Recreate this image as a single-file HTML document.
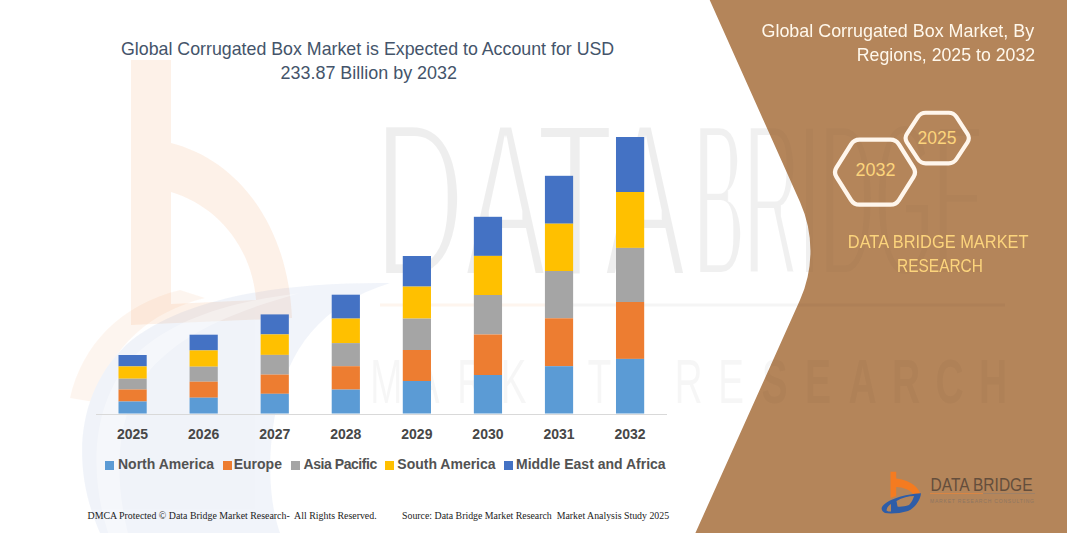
<!DOCTYPE html>
<html><head><meta charset="utf-8">
<style>
html,body{margin:0;padding:0;}
body{width:1067px;height:533px;position:relative;overflow:hidden;background:#fff;font-family:"Liberation Sans",sans-serif;}
.a{position:absolute;white-space:nowrap;}
.t{color:#44546A;font-size:17.8px;line-height:20px;}
.yr{font-weight:bold;font-size:14px;color:#474747;line-height:16px;width:60px;text-align:center;}
.lg{font-weight:bold;font-size:14px;color:#525252;line-height:16px;}
.sq{position:absolute;width:9px;height:9px;}
.ft{white-space:pre;font-family:"Liberation Serif",serif;font-size:9.9px;color:#222;line-height:12px;}
.hx{color:#FCD47C;font-size:17.5px;line-height:20px;text-align:center;}
.db{color:#FCD47C;font-size:16.2px;line-height:20px;text-align:center;}
</style></head><body>
<svg class="a" style="left:0;top:0" width="1067" height="533" viewBox="0 0 1067 533">
  <defs><filter id="er" x="-5%" y="-5%" width="110%" height="110%"><feMorphology operator="erode" radius="0.5 4"/></filter></defs>
  <g opacity="0.1">
    <path fill-rule="evenodd" fill="#F07A22" d="M131 60 L171 60 L171 143 C238 160 288 225 292 318 L131 325 Z M171 192 C218 206 252 248 256 300 L171 304 Z"/>
  </g>
  <g opacity="0.065">
    <path fill="#F07A22" d="M70 398 C82 345 120 305 180 290 L205 298 C150 312 112 345 94 402 Z"/>
    <path fill="#2F5FB0" d="M100 533 C72 470 74 395 126 345 C180 298 280 282 390 283 C320 305 288 350 276 410 C266 460 270 505 280 533 Z"/>
  </g>
  <path fill="#fff" fill-opacity="0.35" d="M108 533 C88 470 92 400 135 355 C175 318 230 302 300 293 C240 310 185 330 150 370 C118 410 112 470 128 533 Z"/>
  <text x="375" y="277" font-family="Liberation Sans" font-size="223" textLength="311" lengthAdjust="spacingAndGlyphs" fill="#000" fill-opacity="0.065" filter="url(#er)">DATA</text>
  <text x="694" y="277" font-family="Liberation Sans" font-size="223" textLength="290" lengthAdjust="spacingAndGlyphs" fill="#000" fill-opacity="0.06" filter="url(#er3)">BRIDGE</text>
  <defs><filter id="er3" x="-5%" y="-5%" width="110%" height="110%"><feMorphology operator="erode" radius="0 4.5"/></filter></defs>
  <line x1="380" y1="305" x2="560" y2="305" stroke="#F07A22" stroke-opacity="0.08" stroke-width="3"/>
  <line x1="560" y1="305" x2="1005" y2="305" stroke="#000" stroke-opacity="0.04" stroke-width="3"/>
  <text transform="scale(0.62 1)" x="596.8 666.9 737.1 807.3 877.4 947.6 1087.9 1158.1 1228.2 1298.4 1368.5 1438.7 1508.9 1579.0" y="403" font-family="Liberation Sans" font-size="63" fill="#000" fill-opacity="0.035">MARKETRESEARCH</text>
  <defs><filter id="er2"><feMorphology operator="erode" radius="1.5"/></filter></defs>
</svg>
<svg class="a" style="left:0;top:0" width="1067" height="533" viewBox="0 0 1067 533">
  <path d="M709.7 0 L800 202 A120 120 0 0 1 800 300 L695.4 533 L1067 533 L1067 0 Z" fill="#B4855A"/>
</svg>
<svg class="a" id="wm2" style="left:0;top:0" width="1067" height="533" viewBox="0 0 1067 533">
  <defs><clipPath id="bp"><path d="M709.7 0 L800 202 A120 120 0 0 1 800 300 L695.4 533 L1067 533 L1067 0 Z"/></clipPath>
  <filter id="er3b" x="-5%" y="-5%" width="110%" height="110%"><feMorphology operator="erode" radius="0 4.5"/></filter></defs>
  <g clip-path="url(#bp)">
  <text x="694" y="277" font-family="Liberation Sans" font-size="223" textLength="290" lengthAdjust="spacingAndGlyphs" fill="#000" fill-opacity="0.022" filter="url(#er3b)">BRIDGE</text>
  <line x1="560" y1="305" x2="1005" y2="305" stroke="#000" stroke-opacity="0.03" stroke-width="3"/>
  <text transform="scale(0.62 1)" x="596.8 666.9 737.1 807.3 877.4 947.6 1087.9 1158.1 1228.2 1298.4 1368.5 1438.7 1508.9 1579.0" y="403" font-family="Liberation Sans" font-size="63" font-weight="bold" fill="#000" fill-opacity="0.028">MARKETRESEARCH</text>
  </g>
</svg>

<div class="a t" style="left:121px;top:39.2px;">Global Corrugated Box Market is Expected to Account for USD</div>
<div class="a t" style="left:280.5px;top:63.2px;font-size:17.95px;">233.87 Billion by 2032</div>

<svg class="a" style="left:0;top:0" width="1067" height="533" viewBox="0 0 1067 533" id="chart">
    <rect x="118.50" y="355" width="28.2" height="11.4" fill="#4472C4"/>
  <rect x="118.50" y="366.4" width="28.2" height="12.3" fill="#FFC000"/>
  <rect x="118.50" y="378.7" width="28.2" height="10.8" fill="#A5A5A5"/>
  <rect x="118.50" y="389.5" width="28.2" height="12.0" fill="#ED7D31"/>
  <rect x="118.50" y="401.5" width="28.2" height="12.0" fill="#5B9BD5"/>
  <rect x="189.57" y="334.7" width="28.2" height="15.7" fill="#4472C4"/>
  <rect x="189.57" y="350.4" width="28.2" height="16.3" fill="#FFC000"/>
  <rect x="189.57" y="366.7" width="28.2" height="15.0" fill="#A5A5A5"/>
  <rect x="189.57" y="381.7" width="28.2" height="16.0" fill="#ED7D31"/>
  <rect x="189.57" y="397.7" width="28.2" height="15.8" fill="#5B9BD5"/>
  <rect x="260.64" y="314.4" width="28.2" height="20.0" fill="#4472C4"/>
  <rect x="260.64" y="334.4" width="28.2" height="20.5" fill="#FFC000"/>
  <rect x="260.64" y="354.9" width="28.2" height="19.7" fill="#A5A5A5"/>
  <rect x="260.64" y="374.6" width="28.2" height="19.2" fill="#ED7D31"/>
  <rect x="260.64" y="393.8" width="28.2" height="19.7" fill="#5B9BD5"/>
  <rect x="331.71" y="294.7" width="28.2" height="23.9" fill="#4472C4"/>
  <rect x="331.71" y="318.6" width="28.2" height="24.5" fill="#FFC000"/>
  <rect x="331.71" y="343.1" width="28.2" height="23.1" fill="#A5A5A5"/>
  <rect x="331.71" y="366.2" width="28.2" height="23.4" fill="#ED7D31"/>
  <rect x="331.71" y="389.6" width="28.2" height="23.9" fill="#5B9BD5"/>
  <rect x="402.78" y="256" width="28.2" height="30.6" fill="#4472C4"/>
  <rect x="402.78" y="286.6" width="28.2" height="32.0" fill="#FFC000"/>
  <rect x="402.78" y="318.6" width="28.2" height="31.4" fill="#A5A5A5"/>
  <rect x="402.78" y="350" width="28.2" height="31.0" fill="#ED7D31"/>
  <rect x="402.78" y="381" width="28.2" height="32.5" fill="#5B9BD5"/>
  <rect x="473.85" y="216.8" width="28.2" height="39.1" fill="#4472C4"/>
  <rect x="473.85" y="255.9" width="28.2" height="39.1" fill="#FFC000"/>
  <rect x="473.85" y="295" width="28.2" height="39.5" fill="#A5A5A5"/>
  <rect x="473.85" y="334.5" width="28.2" height="40.5" fill="#ED7D31"/>
  <rect x="473.85" y="375" width="28.2" height="38.5" fill="#5B9BD5"/>
  <rect x="544.92" y="175.8" width="28.2" height="47.9" fill="#4472C4"/>
  <rect x="544.92" y="223.7" width="28.2" height="47.3" fill="#FFC000"/>
  <rect x="544.92" y="271" width="28.2" height="47.3" fill="#A5A5A5"/>
  <rect x="544.92" y="318.3" width="28.2" height="47.9" fill="#ED7D31"/>
  <rect x="544.92" y="366.2" width="28.2" height="47.3" fill="#5B9BD5"/>
  <rect x="615.99" y="137" width="28.2" height="55.0" fill="#4472C4"/>
  <rect x="615.99" y="192" width="28.2" height="55.9" fill="#FFC000"/>
  <rect x="615.99" y="247.9" width="28.2" height="54.1" fill="#A5A5A5"/>
  <rect x="615.99" y="302" width="28.2" height="56.9" fill="#ED7D31"/>
  <rect x="615.99" y="358.9" width="28.2" height="54.6" fill="#5B9BD5"/>
  <line x1="96" y1="414.5" x2="667" y2="414.5" stroke="#D9D9D9" stroke-width="1"/>
</svg>

<div class="a yr" style="left:102.60px;top:426px;">2025</div>
<div class="a yr" style="left:173.67px;top:426px;">2026</div>
<div class="a yr" style="left:244.74px;top:426px;">2027</div>
<div class="a yr" style="left:315.81px;top:426px;">2028</div>
<div class="a yr" style="left:386.88px;top:426px;">2029</div>
<div class="a yr" style="left:457.95px;top:426px;">2030</div>
<div class="a yr" style="left:529.02px;top:426px;">2031</div>
<div class="a yr" style="left:600.09px;top:426px;">2032</div>

<div class="sq" style="left:105px;top:461px;background:#5B9BD5"></div><div class="a lg" style="left:118px;top:456px;">North America</div>
<div class="sq" style="left:223px;top:461px;background:#ED7D31"></div><div class="a lg" style="left:233.7px;top:456px;">Europe</div>
<div class="sq" style="left:291px;top:461px;background:#A5A5A5"></div><div class="a lg" style="left:303.6px;top:456px;letter-spacing:-0.45px;">Asia Pacific</div>
<div class="sq" style="left:385px;top:461px;background:#FFC000"></div><div class="a lg" style="left:397.3px;top:456px;">South America</div>
<div class="sq" style="left:504px;top:461px;background:#4472C4"></div><div class="a lg" style="left:516px;top:456px;">Middle East and Africa</div>
<div class="a t" style="right:32.5px;top:20.9px;color:#FFF8EC;font-size:18.6px;transform:scaleX(0.963);transform-origin:100% 50%;">Global Corrugated Box Market, By</div>
<div class="a t" style="right:32px;top:45px;color:#FFF8EC;font-size:18.6px;transform:scaleX(0.953);transform-origin:100% 50%;">Regions, 2025 to 2032</div>

<svg class="a" style="left:0;top:0" width="1067" height="533" viewBox="0 0 1067 533">
  <path d="M836.43 167.55 L851.07 144.35 Q854.00 139.70 859.50 139.70 L890.50 139.70 Q896.00 139.70 898.93 144.35 L913.57 167.55 Q916.50 172.20 913.57 176.85 L898.93 200.05 Q896.00 204.70 890.50 204.70 L859.50 204.70 Q854.00 204.70 851.07 200.05 L836.43 176.85 Q833.50 172.20 836.43 167.55 Z" fill="none" stroke="#FFF6EC" stroke-width="4.3"/>
  <path d="M906.93 133.91 L917.97 116.99 Q920.70 112.80 925.70 112.80 L948.70 112.80 Q953.70 112.80 956.43 116.99 L967.47 133.91 Q970.20 138.10 967.47 142.29 L956.43 159.21 Q953.70 163.40 948.70 163.40 L925.70 163.40 Q920.70 163.40 917.97 159.21 L906.93 142.29 Q904.20 138.10 906.93 133.91 Z" fill="none" stroke="#FFF6EC" stroke-width="4.1"/>
</svg>
<div class="a hx" style="left:845.5px;top:159.5px;width:60px;font-size:18px;">2032</div>
<div class="a hx" style="left:907px;top:127.8px;width:60px;">2025</div>
<div class="a db" style="left:835.5px;top:231.9px;width:200px;font-size:18.6px;transform:scaleX(0.882);">DATA BRIDGE MARKET</div>
<div class="a db" style="left:840.3px;top:255.9px;width:200px;font-size:18.6px;transform:scaleX(0.83);">RESEARCH</div>
<svg class="a" style="left:0;top:0" width="1067" height="533" viewBox="0 0 1067 533">
  <path fill="#F47B20" d="M890.5 471.7 L896.2 471.7 L896.2 478.4 C906 479.5 917 484 920.5 494 L913 494 C910 490 903 487 896.2 487 L896.2 496 L890.5 498 Z"/>
  <path fill="#2E5DA8" fill-rule="evenodd" d="M882 507 C886 500 905 494 921 493.3 C920.5 500 915 508 908 511 C900 513.5 890 514 885 513 C882 511.5 881 509 882 507 Z M896.5 501 C902 497.5 909 496 914 496 C913 500 911 503 909 505 C905 506.5 900 507 897.5 506.5 Z M886.5 510.5 C887 507 889 505 891 504 L891 511.5 C889 511.5 887.5 511.5 886.5 510.5 Z"/>
  <line x1="930" y1="493.5" x2="983" y2="493.5" stroke="#E2853E" stroke-width="0.8"/>
  <line x1="983" y1="493.5" x2="1035" y2="493.5" stroke="#98806C" stroke-width="0.8"/>
  <text x="930.5" y="490.5" font-family="Liberation Sans" font-size="17.5" textLength="102" lengthAdjust="spacingAndGlyphs" fill="#644E3C" font-weight="normal" style="letter-spacing:0">DATA BRIDGE</text>
  <text x="930" y="502.5" font-family="Liberation Sans" font-size="5" textLength="104" lengthAdjust="spacing" fill="#8E7662">MARKET  RESEARCH  CONSULTING</text>
</svg>
<div class="ft a" style="left:87.5px;top:509.5px;">DMCA Protected © Data Bridge Market Research-  All Rights Reserved.</div>
<div class="ft a" style="left:402px;top:509.5px;font-size:9.85px;">Source: Data Bridge Market Research  Market Analysis Study 2025</div>
</body></html>
